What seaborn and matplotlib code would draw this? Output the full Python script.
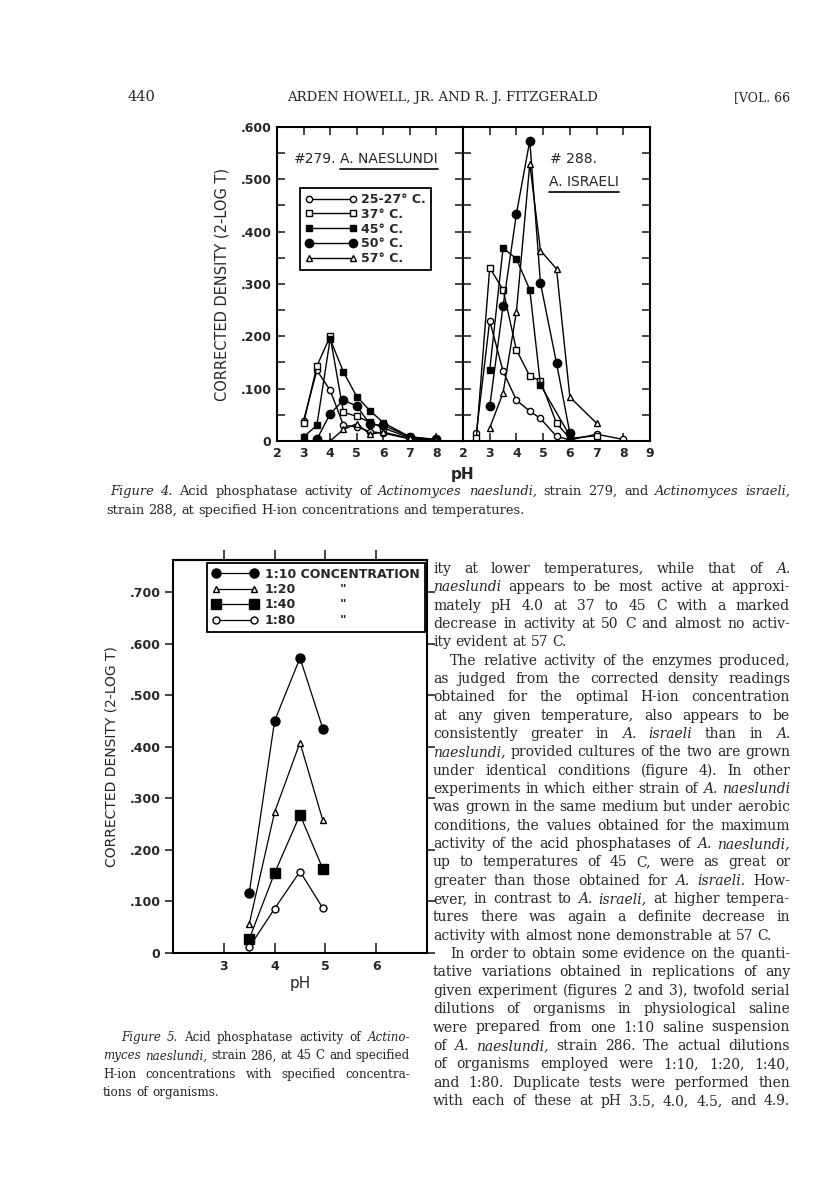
import numpy as np
import pandas as pd
import matplotlib
matplotlib.use('Agg')
import matplotlib.pyplot as plt
import seaborn as sns
from matplotlib.lines import Line2D

W, H = 816, 1200
sns.set_style('ticks')
plt.rcParams['font.family'] = ['DejaVu Sans']

# Figure 4, left panel: #279 A. naeslundi
temps = ['25-27° C.', '37° C.', '45° C.', '50° C.', '57° C.']
ph_279_25 = [3, 3.5, 4, 4.5, 5, 5.5, 6, 7, 8]
od_279_25 = [0.039, 0.135, 0.097, 0.030, 0.027, 0.018, 0.015, 0.004, 0.002]
ph_279_37 = [3, 3.5, 4, 4.5, 5, 5.5, 6, 7, 8]
od_279_37 = [0.034, 0.143, 0.200, 0.055, 0.047, 0.036, 0.025, 0.006, 0.002]
ph_279_45 = [3, 3.5, 4, 4.5, 5, 5.5, 6, 7, 8]
od_279_45 = [0.008, 0.030, 0.195, 0.132, 0.085, 0.058, 0.035, 0.008, 0.002]
ph_279_50 = [3.5, 4, 4.5, 5, 5.5, 6, 7, 8]
od_279_50 = [0.003, 0.052, 0.078, 0.067, 0.032, 0.030, 0.008, 0.003]
ph_279_57 = [4, 4.5, 5, 5.5, 6, 7, 8]
od_279_57 = [0.0, 0.022, 0.033, 0.013, 0.017, 0.005, 0.002]

# Figure 4, right panel: #288 A. israeli
ph_288_25 = [2.5, 3, 3.5, 4, 4.5, 4.9, 5.5, 6, 7, 8]
od_288_25 = [0.015, 0.230, 0.133, 0.078, 0.057, 0.043, 0.009, 0.002, 0.013, 0.003]
ph_288_37 = [2.5, 3, 3.5, 4, 4.5, 4.9, 5.5, 6, 7]
od_288_37 = [0.005, 0.331, 0.289, 0.174, 0.124, 0.115, 0.034, 0.005, 0.010]
ph_288_45 = [3, 3.5, 4, 4.5, 4.9, 6]
od_288_45 = [0.135, 0.369, 0.348, 0.289, 0.107, 0.010]
ph_288_50 = [3, 3.5, 4, 4.5, 4.9, 5.5, 6]
od_288_50 = [0.066, 0.258, 0.434, 0.574, 0.302, 0.149, 0.015]
ph_288_57 = [3, 3.5, 4, 4.5, 4.9, 5.5, 6, 7]
od_288_57 = [0.025, 0.092, 0.247, 0.530, 0.364, 0.329, 0.084, 0.034]

# Figure 5: strain 286 at 45 C, dilutions
dilutions = ['1:10 CONCENTRATION', '1:20', '1:40', '1:80']
ph_286 = [3.5, 4.0, 4.5, 4.95]
od_286_10 = [0.116, 0.450, 0.572, 0.435]
od_286_20 = [0.056, 0.273, 0.408, 0.257]
od_286_40 = [0.027, 0.155, 0.268, 0.163]
od_286_80 = [0.011, 0.086, 0.158, 0.087]

y4_ticks = [0, 0.1, 0.2, 0.3, 0.4, 0.5, 0.6]
y4_labels = ['0', '.100', '.200', '.300', '.400', '.500', '.600']
y5_ticks = [0, 0.1, 0.2, 0.3, 0.4, 0.5, 0.6, 0.7]
y5_labels = ['0', '.100', '.200', '.300', '.400', '.500', '.600', '.700']

# marker looks: (marker, size, face)
st4 = [('o', 4.5, 'white'), ('s', 4.0, 'white'), ('s', 4.2, 'black'),
       ('o', 6.0, 'black'), ('^', 4.8, 'white')]
st5 = [('o', 6.5, 'black'), ('^', 5.0, 'white'), ('s', 6.5, 'black'), ('o', 5.0, 'white')]

fig = plt.figure(figsize=(W / 100, H / 100), dpi=100)
fig.patch.set_facecolor('white')


def px_axes(x0, y0, x1, y1):
    return fig.add_axes([x0 / W, 1 - y1 / H, (x1 - x0) / W, (y1 - y0) / H])


def draw(ax, x, y, s, lw=1.0):
    m, ms, fc = s
    sns.lineplot(x=x, y=y, ax=ax, color='black', lw=lw, marker=m, ms=ms,
                 mfc=fc, mec='black', mew=1.0, sort=False, legend=False)


def handle(s, lw=1.0):
    m, ms, fc = s
    return Line2D([0], [0], color='black', lw=lw, marker=m, ms=ms, mfc=fc, mec='black', mew=1.0)


# ---------- Figure 4 ----------
ax1 = px_axes(277, 127, 463, 441)
ax2 = px_axes(463, 127, 650, 441)
left = [(ph_279_25, od_279_25), (ph_279_37, od_279_37), (ph_279_45, od_279_45),
        (ph_279_50, od_279_50), (ph_279_57, od_279_57)]
right = [(ph_288_25, od_288_25), (ph_288_37, od_288_37), (ph_288_45, od_288_45),
         (ph_288_50, od_288_50), (ph_288_57, od_288_57)]
for (x, y), s in zip(left, st4):
    draw(ax1, x, y, s)
for (x, y), s in zip(right, st4):
    draw(ax2, x, y, s)

for ax in (ax1, ax2):
    ax.set_xlim(2, 9)
    ax.set_ylim(0, 0.6)
    ax.set_xticks(range(2, 10))
    ax.set_yticks(y4_ticks)
    ax.set_yticks(np.arange(0.05, 0.6, 0.1), minor=True)
    ax.tick_params(which='both', direction='in', top=True, right=True, length=6, width=1.2,
                   labelsize=9, pad=4)
    for sp in ax.spines.values():
        sp.set_linewidth(1.5)
        sp.set_color('black')
    ax.set_xlabel('')
    ax.set_ylabel('')
ax1.set_yticklabels(y4_labels, fontweight='bold')
ax1.set_xticklabels(['2', '3', '4', '5', '6', '7', '8', ''], fontweight='bold')
ax2.set_yticklabels([])
ax2.set_xticklabels(['2', '3', '4', '5', '6', '7', '8', '9'], fontweight='bold')
ax1.set_ylabel('CORRECTED DENSITY (2-LOG T)', fontsize=10.5, labelpad=8)
fig.text(463 / W, 1 - 474 / H, 'pH', ha='center', va='center', fontsize=11, fontweight='bold')

leg = ax1.legend([handle(s) for s in st4], temps, loc='upper left',
                 bbox_to_anchor=(300 / W, 1 - 188 / H), bbox_transform=fig.transFigure,
                 numpoints=2, handlelength=4.1, frameon=True, fancybox=False,
                 edgecolor='black', framealpha=1, prop={'weight': 'bold', 'size': 9},
                 borderpad=0.4, labelspacing=0.14, handletextpad=0.4, borderaxespad=0)
leg.get_frame().set_linewidth(1.3)

r = fig.canvas.get_renderer()


def underlined(x, y, s, size):
    t = fig.text(x / W, 1 - y / H, s, fontsize=size, va='baseline')
    bb = t.get_window_extent(r)
    yy = bb.y0 - 3
    fig.add_artist(Line2D([bb.x0 / W, bb.x1 / W], [yy / H, yy / H], color='black', lw=1.2))


fig.text(294 / W, 1 - 163 / H, '#279.', fontsize=10, va='baseline')
underlined(340, 163, 'A. NAESLUNDI', 10)
fig.text(550 / W, 1 - 163 / H, '# 288.', fontsize=10, va='baseline')
underlined(549, 186, 'A. ISRAELI', 10)

# ---------- Figure 5 ----------
ax5 = px_axes(173, 560, 427, 953)
for y, s in zip([od_286_10, od_286_20, od_286_40, od_286_80], st5):
    draw(ax5, ph_286, y, s, lw=0.9)
ax5.set_xlim(2, 7)
ax5.set_ylim(0, 0.762)
ax5.set_xticks([3, 4, 5, 6])
ax5.set_xticklabels(['3', '4', '5', '6'], fontweight='bold')
ax5.set_yticks(y5_ticks)
ax5.set_yticklabels(y5_labels, fontweight='bold')
ax5.tick_params(axis='x', direction='in', length=7, width=1.2, labelsize=9, pad=5)
ax5.tick_params(axis='y', direction='out', right=True, length=6, width=1.2, labelsize=9, pad=3)
for sp in ax5.spines.values():
    sp.set_linewidth(1.5)
    sp.set_color('black')
top = ax5.secondary_xaxis('top')
top.set_xticks([3, 4, 5, 6])
top.set_xticklabels([])
top.tick_params(direction='out', length=7, width=1.2)
top.spines['top'].set_linewidth(1.5)
ax5.set_xlabel('pH', fontsize=11, labelpad=2)
ax5.set_ylabel('CORRECTED DENSITY (2-LOG T)', fontsize=10, labelpad=8)

leg5 = ax5.legend([handle(s, 0.9) for s in st5], dilutions, loc='upper right',
                  numpoints=2, handlelength=3.6, frameon=True, fancybox=False,
                  edgecolor='black', framealpha=1, prop={'weight': 'bold', 'size': 9},
                  borderpad=0.4, labelspacing=0.2, handletextpad=0.6, borderaxespad=0.2)
leg5.get_frame().set_linewidth(1.3)
fig.canvas.draw()
for t in leg5.get_texts()[1:]:
    bb = t.get_window_extent(r)
    fig.text(343 / W, (bb.y0 + bb.y1) / 2 / H, '"', fontsize=9, fontweight='bold',
             ha='center', va='center')

# ---------- page text ----------
SERIF = 'DejaVu Serif'


def text_line(x0, x1, y, line, size, justify):
    items = []
    for w in line.split():
        st = 'normal'
        if w.startswith('_'):
            w = w[1:]
            st = 'italic'
        t = fig.text(0, 0, w, fontsize=size, style=st, family=SERIF, va='baseline')
        items.append((t, t.get_window_extent(r).width))
    total = sum(wd for t, wd in items)
    gap = size * 100 / 72 * 0.32
    if justify and len(items) > 1:
        gap = (x1 - x0 - total) / (len(items) - 1)
    x = x0
    for t, wd in items:
        t.set_position((x / W, 1 - y / H))
        x += wd + gap


fig.text(128 / W, 1 - 101 / H, '440', fontsize=10.5, family=SERIF, va='baseline')
fig.text(443 / W, 1 - 101 / H, 'ARDEN HOWELL, JR. AND R. J. FITZGERALD', fontsize=9.5,
         family=SERIF, ha='center', va='baseline')
fig.text(790 / W, 1 - 101 / H, '[VOL. 66', fontsize=9, family=SERIF, ha='right', va='baseline')

cap4 = [(110, True, '_Figure _4. Acid phosphatase activity of _Actinomyces _naeslundi, strain 279, and _Actinomyces _israeli,'),
        (106, False, 'strain 288, at specified H-ion concentrations and temperatures.')]
for i, (x0, j, s) in enumerate(cap4):
    text_line(x0, 790, 495 + i * 18.5, s, 9.4, j)

cap5 = [(121, True, '_Figure _5. Acid phosphatase activity of _Actino-'),
        (103, True, '_myces _naeslundi, strain 286, at 45 C and specified'),
        (103, True, 'H-ion concentrations with specified concentra-'),
        (103, False, 'tions of organisms.')]
for i, (x0, j, s) in enumerate(cap5):
    text_line(x0, 410, 1041 + i * 18.4, s, 8.6, j)

body = [
    (433, True, 'ity at lower temperatures, while that of _A.'),
    (433, True, '_naeslundi appears to be most active at approxi-'),
    (433, True, 'mately pH 4.0 at 37 to 45 C with a marked'),
    (433, True, 'decrease in activity at 50 C and almost no activ-'),
    (433, False, 'ity evident at 57 C.'),
    (450, True, 'The relative activity of the enzymes produced,'),
    (433, True, 'as judged from the corrected density readings'),
    (433, True, 'obtained for the optimal H-ion concentration'),
    (433, True, 'at any given temperature, also appears to be'),
    (433, True, 'consistently greater in _A. _israeli than in _A.'),
    (433, True, '_naeslundi, provided cultures of the two are grown'),
    (433, True, 'under identical conditions (figure 4). In other'),
    (433, True, 'experiments in which either strain of _A. _naeslundi'),
    (433, True, 'was grown in the same medium but under aerobic'),
    (433, True, 'conditions, the values obtained for the maximum'),
    (433, True, 'activity of the acid phosphatases of _A. _naeslundi,'),
    (433, True, 'up to temperatures of 45 C, were as great or'),
    (433, True, 'greater than those obtained for _A. _israeli. How-'),
    (433, True, 'ever, in contrast to _A. _israeli, at higher tempera-'),
    (433, True, 'tures there was again a definite decrease in'),
    (433, False, 'activity with almost none demonstrable at 57 C.'),
    (450, True, 'In order to obtain some evidence on the quanti-'),
    (433, True, 'tative variations obtained in replications of any'),
    (433, True, 'given experiment (figures 2 and 3), twofold serial'),
    (433, True, 'dilutions of organisms in physiological saline'),
    (433, True, 'were prepared from one 1:10 saline suspension'),
    (433, True, 'of _A. _naeslundi, strain 286. The actual dilutions'),
    (433, True, 'of organisms employed were 1:10, 1:20, 1:40,'),
    (433, True, 'and 1:80. Duplicate tests were performed then'),
    (433, True, 'with each of these at pH 3.5, 4.0, 4.5, and 4.9.'),
]
for i, (x0, j, s) in enumerate(body):
    text_line(x0, 790, 573 + i * 18.34, s, 10.0, j)

fig.savefig('out.png', dpi=100)
